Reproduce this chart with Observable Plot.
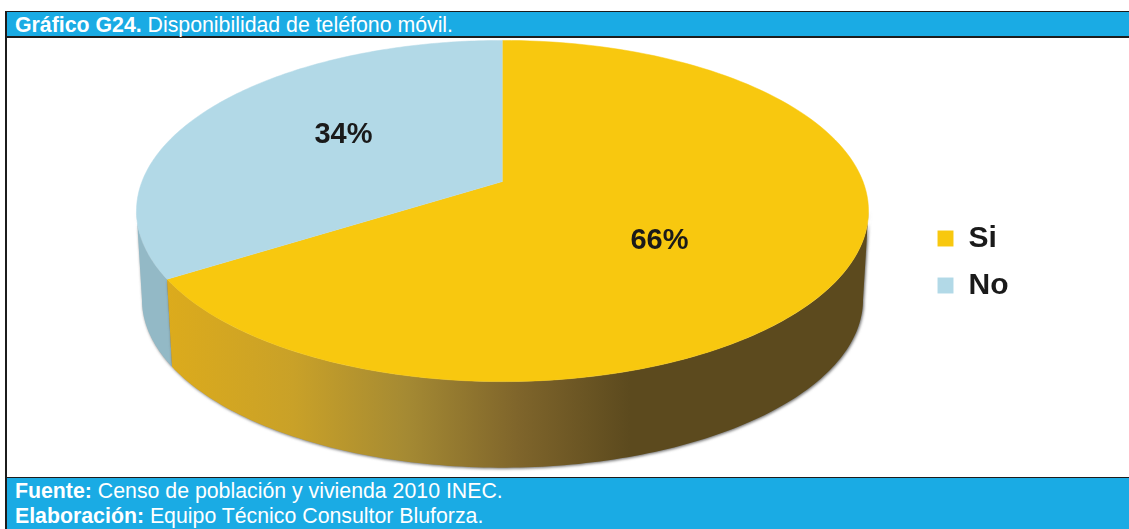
<!DOCTYPE html>
<html lang="es">
<head>
<meta charset="utf-8">
<script src="https://cdn.jsdelivr.net/npm/d3@7"></script>
<script src="https://cdn.jsdelivr.net/npm/@observablehq/plot@0.6"></script>
<style>
  html, body { margin: 0; padding: 0; background: #fff; }
  body { width: 1129px; height: 529px; overflow: hidden; font-family: "Liberation Sans", Arial, sans-serif; position: relative; }
  .frame { position: absolute; left: 5px; top: 11px; width: 1124px; }
  .band { background: #1aabe4; color: #fff; box-sizing: border-box; font-size: 21.3px; }
  .band b { font-weight: 700; }
  #title { height: 27px; line-height: 26px; border-top: 1px solid #1c1c1c; border-left: 2px solid #1c1c1c; border-bottom: 2px solid #1c1c1c; padding-left: 8px; }
  #plot { height: 439px; border-left: 2px solid #1c1c1c; }
  #plot svg { display: block; }
  #foot { position: absolute; left: 5px; top: 477px; width: 1124px; height: 52px; border-top: 1px solid #1c1c1c; border-left: 2px solid #1c1c1c; padding-left: 8px; line-height: 25px; padding-top: 1px; }
</style>
</head>
<body>
<div class="frame">
  <div class="band" id="title"></div>
  <div id="plot"></div>
</div>
<div class="band" id="foot"></div>
<script>
const categories = ["Si", "No"];
const shares = [66, 34];
const sliceLabels = ["66%", "34%"];
const colors = ["#f8c80f", "#b2d9e7"];
const titleBold = "Gráfico G24.";
const titleRest = "Disponibilidad de teléfono móvil.";
const sourceBold = "Fuente:";
const sourceRest = "Censo de población y vivienda 2010 INEC.";
const creditBold = "Elaboración:";
const creditRest = "Equipo Técnico Consultor Bluforza.";

document.getElementById("title").innerHTML = `<b>${titleBold}</b> ${titleRest}`;
document.getElementById("foot").innerHTML = `<b>${sourceBold}</b> ${sourceRest}<br><b>${creditBold}</b> ${creditRest}`;

// View of a tilted disc: the near edge is drawn larger, so the pie's apex sits above the ellipse centre.
const view = { tilt: 0.173, bottomScale: 0.985, depth: 0.538 };
const project = (theta, r = 1, level = 0) => {
  const u = r * Math.sin(theta), v = -r * Math.cos(theta);
  const w = 1 - view.tilt * v;
  const s = level ? view.bottomScale : 1;
  return { px: s * u / w, py: s * v / w + level * view.depth };
};
const arcPoints = (a, b, level, n = 140) =>
  d3.range(n + 1).map(i => project(a + (b - a) * i / n, 1, level));

const arcs = d3.pie().sort(null)(shares);
const slices = arcs.map((arc, i) => ({ category: categories[i], start: arc.startAngle, end: arc.endAngle }));

const topPoints = slices.flatMap(s =>
  [{ px: 0, py: 0 }, ...arcPoints(s.start, s.end, 0)].map(p => ({ ...p, category: s.category })));

// The wall runs between the widest points of the disc.
const widest = Math.acos(-view.tilt);
const wallPoints = (name, from, to) =>
  [...arcPoints(from, to, 0), ...arcPoints(to, from, 1)].map(p => ({ ...p, wall: name }));
const siWall = wallPoints("si", widest, slices[0].end);
const noWall = wallPoints("no", slices[1].start, 2 * Math.PI - widest);

const gradient = () => {
  const ns = "http://www.w3.org/2000/svg";
  const svg = document.createElementNS(ns, "svg");
  const defs = document.createElementNS(ns, "defs");
  const g = document.createElementNS(ns, "linearGradient");
  g.setAttribute("id", "siWall");
  [[0, "#dcab1c"], [0.18, "#c9a128"], [0.34, "#a58a33"], [0.5, "#7f652b"], [0.66, "#5c4a1e"], [1, "#5c4a1e"]].forEach(([o, c]) => {
    const stop = document.createElementNS(ns, "stop");
    stop.setAttribute("offset", o);
    stop.setAttribute("stop-color", c);
    g.appendChild(stop);
  });
  defs.appendChild(g);
  svg.appendChild(defs);
  return svg;
};

const legend = categories.map((category, i) => ({ category, i }));
const shadow = "drop-shadow(1.5px 1.5px 1.5px rgba(70,70,70,0.8))";
const labelStyle = { frameAnchor: "top-left", lineAnchor: "middle", fontWeight: 700, fill: "#1a1a1a", imageFilter: "blur(0.5px)" };

const chart = Plot.plot({
  width: 1122, height: 439,
  margin: 0,
  style: { background: "transparent", fontFamily: '"Liberation Sans", Arial, sans-serif' },
  x: { axis: null, domain: [-1, 1], range: [134.5, 855.5] },
  y: { axis: null, domain: [-1, 1], range: [-22.5, 308.5] },
  color: { domain: categories, range: colors },
  marks: [
    gradient,
    Plot.line(noWall, { x: "px", y: "py", z: "wall", fill: "#93b9c6", stroke: "none", imageFilter: shadow }),
    Plot.line(siWall, { x: "px", y: "py", z: "wall", fill: "url(#siWall)", stroke: "none", imageFilter: "drop-shadow(1.5px 1.5px 1.5px rgba(70,70,70,0.8))" }),
    Plot.line(topPoints, { x: "px", y: "py", z: "category", fill: "category", stroke: "category", strokeWidth: 0.5, imageFilter: "blur(0.5px)" }),
    Plot.text([sliceLabels[0]], { ...labelStyle, dx: 652, dy: 201, fontSize: 29, textAnchor: "middle" }),
    Plot.text([sliceLabels[1]], { ...labelStyle, dx: 336, dy: 95, fontSize: 29, textAnchor: "middle" }),
    Plot.dot(legend.filter(d => d.i === 0), { frameAnchor: "top-left", dx: 938, dy: 200, symbol: "square", r: 9, fill: "category", stroke: "none" }),
    Plot.dot(legend.filter(d => d.i === 1), { frameAnchor: "top-left", dx: 938, dy: 247, symbol: "square", r: 9, fill: "category", stroke: "none" }),
    Plot.text(legend.filter(d => d.i === 0), { ...labelStyle, dx: 961, dy: 199, text: "category", textAnchor: "start", fontSize: 30 }),
    Plot.text(legend.filter(d => d.i === 1), { ...labelStyle, dx: 961, dy: 246, text: "category", textAnchor: "start", fontSize: 30 })
  ]
});
document.getElementById("plot").appendChild(chart);
</script>
</body>
</html>
